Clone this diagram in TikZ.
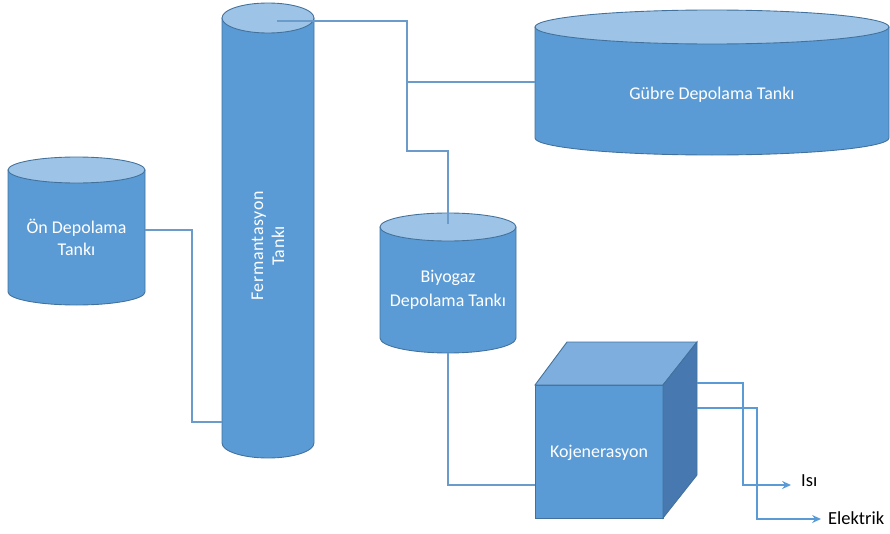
\documentclass[tikz,border=0pt]{standalone}
\usepackage{fontspec}
\setmainfont{Carlito}
\newfontfamily\fermfont[LetterSpace=3]{Carlito}
\usetikzlibrary{arrows.meta}
\definecolor{tankblue}{HTML}{5B9BD5}
\definecolor{tanklight}{HTML}{9DC3E6}
\definecolor{tankedge}{HTML}{41719C}
\definecolor{cubetopc}{HTML}{7DAEDD}
\definecolor{cubesidec}{HTML}{4779B0}
\definecolor{pipeblue}{HTML}{6A9BCB}
\tikzset{
	tank/.style={fill=tankblue, draw=tankedge, line width=0.5pt},
	tanklid/.style={fill=tanklight, draw=tankedge, line width=0.5pt},
	pipe/.style={draw=pipeblue, line width=0.6pt},
	outpipe/.style={draw=tankblue, line width=1pt, -{Stealth[length=5pt,width=4.5pt]}},
	tanktext/.style={text=white, align=center, font=\fontsize{10.2}{12.5}\selectfont}
}

\begin{document}
\begin{tikzpicture}[x=0.02cm, y=-0.02cm]
		\useasboundingbox (0, 0) rectangle (890, 534);

		\filldraw[tank]		(8, 170) to (8, 292) arc[start angle=180, end angle=0, x radius=68.5, y radius=13] to (145, 170) -- cycle;
		\filldraw[tanklid]	(76.5, 170) ellipse [x radius=68.5, y radius=13];
		\node[tanktext] (on) at (76.5, 237) {Ön Depolama\\Tankı};

		\filldraw[tank]		(222, 18) to (222, 443) arc[start angle=180, end angle=0, x radius=46, y radius=15] to (314, 18) -- cycle;
		\filldraw[tanklid]	(268, 18) ellipse [x radius=46, y radius=15];
		\node[tanktext, rotate=90, font=\fermfont\fontsize{10.2}{12}\selectfont] (ferm) at (268, 246) {Fermantasyon\\Tankı};

		\filldraw[tank]		(535, 27) to (535, 138) arc[start angle=180, end angle=0, x radius=177, y radius=17] to (889, 27) -- cycle;
		\filldraw[tanklid]	(712, 27) ellipse [x radius=177, y radius=17];
		\node[tanktext] (gubre) at (712, 95) {Gübre Depolama Tankı};

		\filldraw[tank]		(380, 227) to (380, 338) arc[start angle=180, end angle=0, x radius=68, y radius=15] to (516, 227) -- cycle;
		\filldraw[tanklid]	(448, 227) ellipse [x radius=68, y radius=14];
		\node[tanktext, font=\fontsize{10.2}{13.5}\selectfont] (biyo) at (448, 290) {Biyogaz\\Depolama Tankı};

		\filldraw[tank]		(535, 385) rectangle (663, 518);
		\filldraw[tank, fill=cubetopc]	(535, 385) to (567, 342) to (697, 342) to (663, 385) -- cycle;
		\filldraw[tank, fill=cubesidec]	(663, 385) to (697, 342) to (697, 475) to (663, 518) -- cycle;
		\node[tanktext] (koj) at (599, 453) {Kojenerasyon};

		\coordinate (onout)		at (145, 230);
		\coordinate (onjog)		at (192, 422);
		\coordinate (fermin)	at (222, 422);
		\coordinate (fermout)	at (277, 21);
		\coordinate (split)		at (407, 82);
		\coordinate (gubrein)	at (535, 82);
		\coordinate (biyojog)	at (407, 151);
		\coordinate (biyoin)	at (448, 224);
		\coordinate (biyoout)	at (448, 353);
		\coordinate (kojin)		at (535, 485);
		\coordinate (isiout)	at (697, 383);
		\coordinate (isijog)	at (743, 485);
		\coordinate (isiend)	at (791, 485);
		\coordinate (elekout)	at (697, 408);
		\coordinate (elekjog)	at (757, 519);
		\coordinate (elekend)	at (821, 519);

		\draw[pipe]	(onout) -| (onjog) to (fermin);
		\draw[pipe]	(fermout) -| (split) to (gubrein);
		\draw[pipe]	(split) to (biyojog) -| (biyoin);
		\draw[pipe]	(biyoout) |- (kojin);

		\draw[outpipe]	(isiout) -| (isijog) to (isiend);
		\draw[outpipe]	(elekout) -| (elekjog) to (elekend);

		\node[anchor=west, font=\fontsize{10.5}{12}\selectfont] (isi) at (795, 481) {Isı};
		\node[anchor=west, font=\fontsize{10.5}{12}\selectfont] (elek) at (822, 518) {Elektrik};
	\end{tikzpicture}
\end{document}
